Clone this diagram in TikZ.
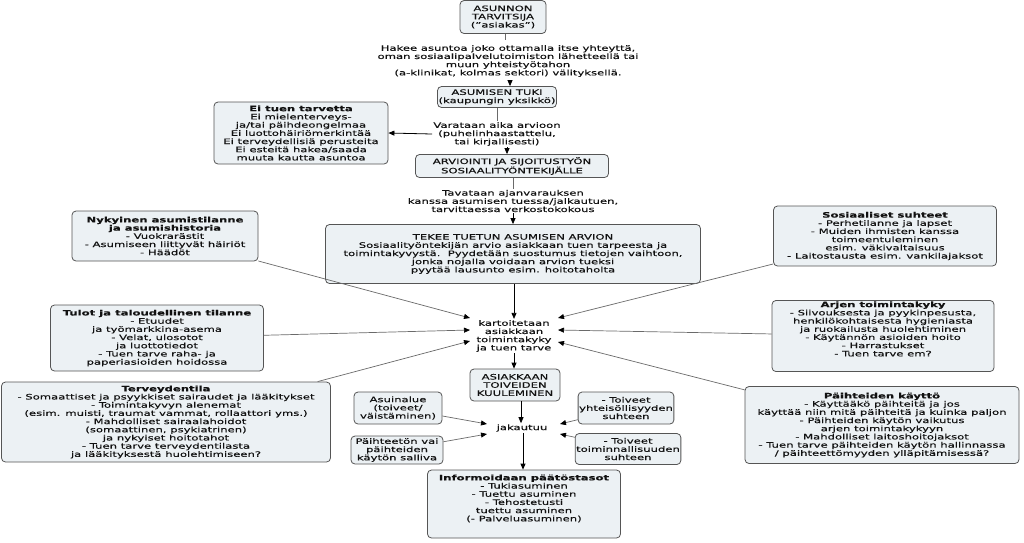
\documentclass[tikz,border=0pt]{standalone}
\usepackage{fontspec}
\setmainfont{DejaVu Sans}[FakeStretch=1.55, FakeBold=0.25]
\usetikzlibrary{arrows.meta}
\definecolor{boxfill}{HTML}{ECF1F4}
\definecolor{boxdraw}{HTML}{555555}
\definecolor{linegray}{HTML}{6A6A6A}
\definecolor{txt}{HTML}{111111}
\newcommand\dfont{\fontsize{7.5}{8.2}\selectfont}
\begin{document}
\begin{tikzpicture}[x=1pt,y=-1pt,
  bx/.style={draw=boxdraw, fill=boxfill, rounded corners=4pt, align=center, font=\dfont, text=txt, inner sep=1pt, line width=0.8pt},
  tx/.style={align=center, font=\dfont, text=txt, inner sep=1pt},
  ln/.style={draw=linegray, line width=0.8pt},
  arr/.style={draw=black, line width=0.8pt, -{Triangle[length=6pt,width=5pt]}},
  sarr/.style={draw=linegray, line width=0.7pt, -{Triangle[length=6pt,width=5pt,color=black]}}]
\useasboundingbox (0,0) rectangle (1024,542);
\fill[white] (0,0) rectangle (1024,542);

\node[bx, minimum width=86pt, minimum height=33pt] (asunnon) at (503,17) {ASUNNON\\TARVITSIJA\\("asiakas")};
\node[tx] (hakee) at (508,61) {Hakee asuntoa joko ottamalla itse yhteyttä,\\oman sosiaalipalvelutoimiston lähetteellä tai\\muun yhteistyötahon\\(a-klinikat, kolmas sektori) välityksellä.};
\node[bx, minimum width=113pt, minimum height=21pt] (tuki) at (497,97) {ASUMISEN TUKI\\(kaupungin yksikkö)};
\node[tx] (varataan) at (497,134) {Varataan aika arvioon\\(puhelinhaastattelu,\\tai kirjallisesti)};
\node[bx, minimum width=174pt, minimum height=62pt] (ei) at (301,133) {\textbf{Ei tuen tarvetta}\\Ei mielenterveys-\\ja/tai päihdeongelmaa\\Ei luottohäiriömerkintää\\Ei terveydellisiä perusteita\\Ei esteitä hakea/saada\\muuta kautta asuntoa};
\node[bx, minimum width=193pt, minimum height=23pt] (arviointi) at (512,166) {ARVIOINTI JA SIJOITUSTYÖN\\SOSIAALITYÖNTEKIJÄLLE};
\node[tx] (tavataan) at (513,201) {Tavataan ajanvarauksen\\kanssa asumisen tuessa/jalkautuen,\\tarvittaessa verkostokokous};
\node[bx, minimum width=375pt, minimum height=59pt] (tekee) at (513,254) {TEKEE TUETUN ASUMISEN ARVION\\Sosiaalityöntekijän arvio asiakkaan tuen tarpeesta ja\\toimintakyvystä.\ \ Pyydetään suostumus tietojen vaihtoon,\\jonka nojalla voidaan arvion tueksi\\pyytää lausunto esim. hoitotaholta};

\node[bx, minimum width=186pt, minimum height=50pt] (nyk) at (165,236) {\textbf{Nykyinen asumistilanne}\\\textbf{ja asumishistoria}\\- Vuokrarästit\\- Asumiseen liittyvät häiriöt\\- Häädöt};
\node[bx, minimum width=223pt, minimum height=60pt] (sos) at (885,236) {\textbf{Sosiaaliset suhteet}\\- Perhetilanne ja lapset\\- Muiden ihmisten kanssa\\toimeentuleminen\\esim. väkivaltaisuus\\- Laitostausta esim. vankilajaksot};
\node[bx, minimum width=213pt, minimum height=66pt] (tulot) at (157,338) {\textbf{Tulot ja taloudellinen tilanne}\\- Etuudet\\ja työmarkkina-asema\\- Velat, ulosotot\\ja luottotiedot\\- Tuen tarve raha- ja\\paperiasioiden hoidossa};
\node[bx, minimum width=222pt, minimum height=69pt] (arjen) at (883,336) {\textbf{Arjen toimintakyky}\\- Siivouksesta ja pyykinpesusta,\\henkilökohtaisesta hygieniasta\\ja ruokailusta huolehtiminen\\- Käytännön asioiden hoito\\- Harrastukset\\- Tuen tarve em?\\[6pt]};
\node[bx, minimum width=329pt, minimum height=80pt] (terv) at (166,422) {\textbf{Terveydentila}\\- Somaattiset ja psyykkiset sairaudet ja lääkitykset\\- Toimintakyvyn alenemat\\(esim. muisti, traumat vammat, rollaattori yms.)\\- Mahdolliset sairaalahoidot\\(somaattinen, psykiatrinen)\\ja nykyiset hoitotahot\\- Tuen tarve terveydentilasta\\ja lääkityksestä huolehtimiseen?};
\node[bx, minimum width=274pt, minimum height=77pt] (paih) at (882,425) {\textbf{Päihteiden käyttö}\\- Käyttääkö päihteitä ja jos\\käyttää niin mitä päihteitä ja kuinka paljon\\- Päihteiden käytön vaikutus\\arjen toimintakykyyn\\- Mahdolliset laitoshoitojaksot\\- Tuen tarve päihteiden käytön hallinnassa\\/ päihteettömyyden ylläpitämisessä?};

\node[tx] (kart) at (514,336) {kartoitetaan\\asiakkaan\\toimintakyky\\ja tuen tarve};
\node[bx, minimum width=90pt, minimum height=32pt] (asiak) at (515,385) {ASIAKKAAN\\TOIVEIDEN\\KUULEMINEN};
\node[bx, minimum width=88pt, minimum height=32pt] (asuin) at (398,408) {Asuinalue\\(toiveet/\\väistäminen)};
\node[bx, minimum width=92pt, minimum height=28pt] (paiht) at (397,450) {Päihteetön vai\\päihteiden\\käytön salliva};
\node[bx, minimum width=80pt, minimum height=32pt] (yht) at (626,408) {- Toiveet\\yhteisöllisyyden\\suhteen};
\node[bx, minimum width=98pt, minimum height=31pt] (toim) at (628,449) {- Toiveet\\toiminnallisuuden\\suhteen};
\node[tx] (jak) at (522,428) {jakautuu};
\node[bx, minimum width=193pt, minimum height=68pt] (info) at (524,504) {\textbf{Informoidaan päätöstasot}\\- Tukiasuminen\\- Tuettu asuminen\\- Tehostetusti\\tuettu asuminen\\(- Palveluasuminen)\\[4pt]};

% coordinates for arrow tips around kart / jak
\coordinate (kl1) at (470,318);
\coordinate (kl2) at (470,330);
\coordinate (kl3) at (470,341);
\coordinate (kr1) at (558,318);
\coordinate (kr2) at (558,330);
\coordinate (kr3) at (558,342);
\coordinate (jl1) at (487,424);
\coordinate (jl2) at (487,434);
\coordinate (jr1) at (560,424);
\coordinate (jr2) at (560,434);

% main flow
\draw[ln] (asunnon.south -| 505,0) -- (505,40);
\draw[arr] (510,80) -- (tuki.north -| 510,0);
\draw[ln] (tuki.south) -- (varataan.north);
\draw[arr] (varataan.west) -- (ei.east);
\draw[arr] (varataan.south -| 507,0) -- (arviointi.north -| 507,0);
\draw[ln] (arviointi.south -| 513,0) -- (tavataan.north -| 513,0);
\draw[arr] (tavataan.south -| 513,0) -- (tekee.north -| 513,0);
\draw[arr] (tekee.south -| 514,0) -- (kart.north -| 514,0);
\draw[arr] (kart.south -| 514,0) -- (asiak.north -| 514,0);
\draw[arr] (asiak.south -| 521,0) -- (jak.north -| 521,0);
\draw[arr] (jak.south -| 523,0) -- (info.north -| 523,0);

% side boxes
\draw[sarr] (nyk) -- (kl1);
\draw[sarr] (tulot) -- (kl2);
\draw[sarr] (terv) -- (kl3);
\draw[sarr] (sos) -- (kr1);
\draw[sarr] (arjen) -- (kr2);
\draw[sarr] (paih) -- (kr3);
\draw[sarr] (asuin) -- (jl1);
\draw[sarr] (paiht) -- (jl2);
\draw[sarr] (yht) -- (jr1);
\draw[sarr] (toim) -- (jr2);
\end{tikzpicture}
\end{document}
